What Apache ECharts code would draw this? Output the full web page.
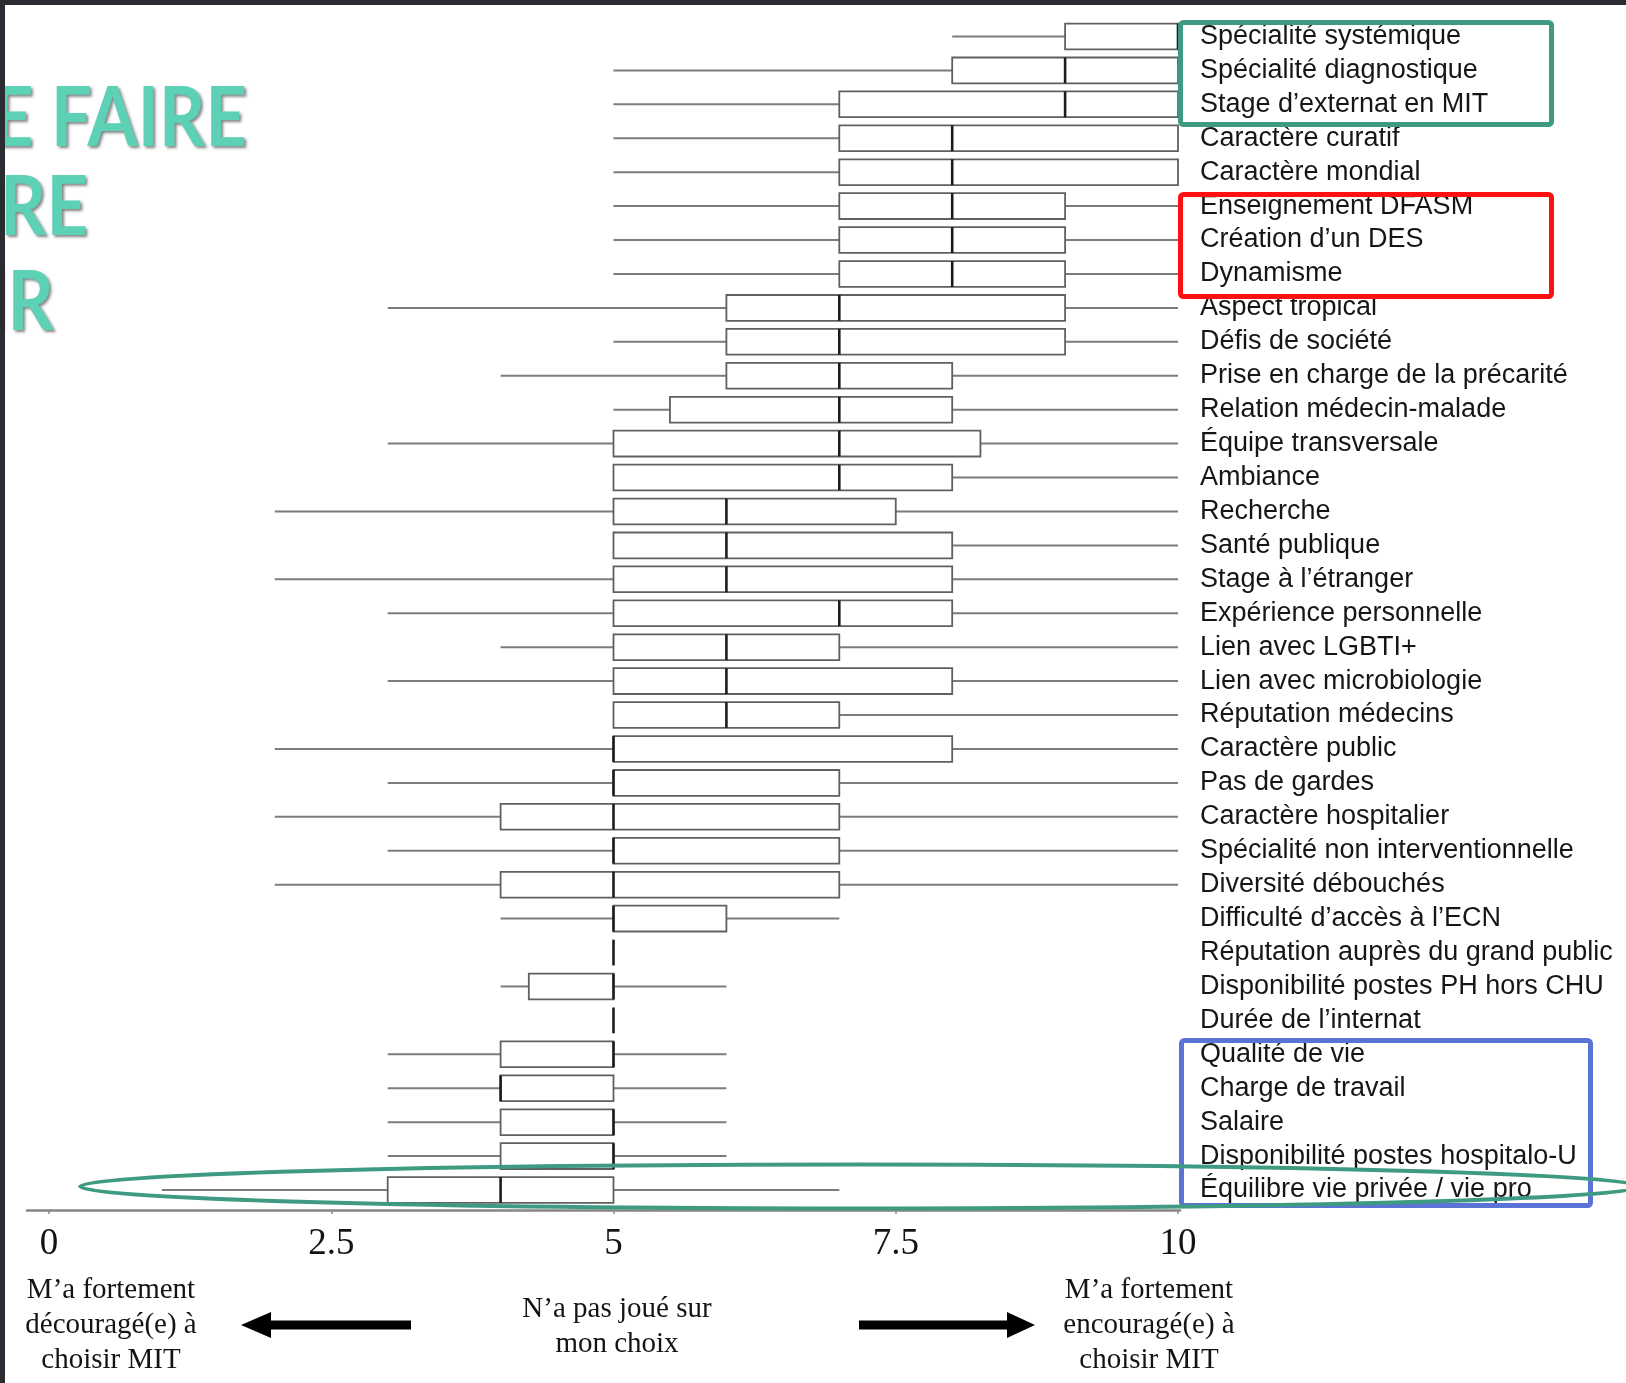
<!DOCTYPE html>
<html>
<head>
<meta charset="utf-8">
<script src="https://cdn.jsdelivr.net/npm/echarts/dist/echarts.min.js"></script>
<style>
html,body{margin:0;padding:0;background:#ffffff;}
#chart{width:1626px;height:1383px;}
</style>
</head>
<body>
<div id="chart"></div>
<script>
// ---- data ----
const categories = [
  "Spécialité systémique",
  "Spécialité diagnostique",
  "Stage d’externat en MIT",
  "Caractère curatif",
  "Caractère mondial",
  "Enseignement DFASM",
  "Création d’un DES",
  "Dynamisme",
  "Aspect tropical",
  "Défis de société",
  "Prise en charge de la précarité",
  "Relation médecin-malade",
  "Équipe transversale",
  "Ambiance",
  "Recherche",
  "Santé publique",
  "Stage à l’étranger",
  "Expérience personnelle",
  "Lien avec LGBTI+",
  "Lien avec microbiologie",
  "Réputation médecins",
  "Caractère public",
  "Pas de gardes",
  "Caractère hospitalier",
  "Spécialité non interventionnelle",
  "Diversité débouchés",
  "Difficulté d’accès à l’ECN",
  "Réputation auprès du grand public",
  "Disponibilité postes PH hors CHU",
  "Durée de l’internat",
  "Qualité de vie",
  "Charge de travail",
  "Salaire",
  "Disponibilité postes hospitalo-U",
  "Équilibre vie privée / vie pro"
];
const mins    = [8, 5, 5, 5, 5, 5, 5, 5, 3, 5, 4, 5,   3,    5, 2,   5, 2, 3, 4, 3, 5, 2, 3, 2, 3, 2, 4, 5, 4,    5, 3, 3, 3, 3, 1];
const q1s     = [9, 8, 7, 7, 7, 7, 7, 7, 6, 6, 6, 5.5, 5,    5, 5,   5, 5, 5, 5, 5, 5, 5, 5, 4, 5, 4, 5, 5, 4.25, 5, 4, 4, 4, 4, 3];
const medians = [10,9, 9, 8, 8, 8, 8, 8, 7, 7, 7, 7,   7,    7, 6,   6, 6, 7, 6, 6, 6, 5, 5, 5, 5, 5, 5, 5, 5,    5, 5, 4, 5, 5, 4];
const q3s     = [10,10,10,10,10,9, 9, 9, 9, 9, 8, 8,   8.25, 8, 7.5, 8, 8, 8, 7, 8, 7, 8, 7, 7, 7, 7, 6, 5, 5,    5, 5, 5, 5, 5, 5];
const maxs    = [10,10,10,10,10,10,10,10,10,10,10,10,  10,   10,10,  10,10,10,10,10,10,10,10,10,10,10, 7, 5, 6,    5, 6, 6, 6, 6, 7];
const xTicks  = [0, 2.5, 5, 7.5, 10];

const headingLines = ["E FAIRE", "TRE", "IR"];
const leftNote  = "M’a fortement\ndécouragé(e) à\nchoisir MIT";
const midNote   = "N’a pas joué sur\nmon choix";
const rightNote = "M’a fortement\nencouragé(e) à\nchoisir MIT";

// ---- build ----
const boxData = categories.map((c, i) => [i, mins[i], q1s[i], medians[i], q3s[i], maxs[i]]);

const W = 1626, H = 1383;
const gridLeft = 49, gridRight = W - 1178, gridTop = 19.5, gridBottom = H - 1207;

function renderBox(params, api) {
  const yi = api.value(0);
  const mn = api.value(1), q1 = api.value(2), md = api.value(3), q3 = api.value(4), mx = api.value(5);
  const pMin = api.coord([mn, yi]);
  const pQ1 = api.coord([q1, yi]);
  const pMd = api.coord([md, yi]);
  const pQ3 = api.coord([q3, yi]);
  const pMax = api.coord([mx, yi]);
  const band = api.size([0, 1])[1];
  const h = band * 0.76;
  const cy = pMin[1];
  const children = [];
  const whisk = { stroke: '#7c7c7c', lineWidth: 2 };
  if (mn < q1) children.push({ type: 'line', shape: { x1: pMin[0], y1: cy, x2: pQ1[0], y2: cy }, style: whisk });
  if (mx > q3) children.push({ type: 'line', shape: { x1: pQ3[0], y1: cy, x2: pMax[0], y2: cy }, style: whisk });
  if (q3 > q1) children.push({ type: 'rect', shape: { x: pQ1[0], y: cy - h / 2, width: pQ3[0] - pQ1[0], height: h },
                              style: { fill: '#ffffff', stroke: '#606060', lineWidth: 1.8 } });
  children.push({ type: 'line', shape: { x1: pMd[0], y1: cy - h / 2, x2: pMd[0], y2: cy + h / 2 },
                  style: { stroke: '#1c1c1c', lineWidth: 2.6 } });
  return { type: 'group', children };
}

const teal = '#3e9b82';
const serif = '"Liberation Serif", "DejaVu Serif", serif';
const headFont = 'bold 82px Lato, "Open Sans", sans-serif';
const headShadow = {
  shadowColor: 'rgba(90,90,90,0.75)', shadowBlur: 3, shadowOffsetX: 2, shadowOffsetY: 2,
  textShadowColor: 'rgba(90,90,90,0.75)', textShadowBlur: 3, textShadowOffsetX: 2, textShadowOffsetY: 2
};
function heading(txt, x, y) {
  return { type: 'text', x: x, y: y, scaleX: 0.88, z: 50,
           style: Object.assign({ text: txt, font: headFont, fill: '#5cd1b6', align: 'right', verticalAlign: 'middle' }, headShadow) };
}

const option = {
  backgroundColor: '#ffffff',
  animation: false,
  grid: [
    { left: gridLeft, right: gridRight, top: gridTop, bottom: gridBottom },
    { left: 27, right: W - 1180, top: gridTop, bottom: gridBottom }
  ],
  xAxis: [
    {
      type: 'value', gridIndex: 0, min: 0, max: 10, interval: 2.5, offset: 3,
      axisLine: { show: false },
      axisTick: { show: true, length: 4, lineStyle: { color: '#8a8a8a', width: 1.5 } },
      splitLine: { show: false },
      axisLabel: {
        fontFamily: serif, fontSize: 37, color: '#141414', margin: 16,
        formatter: v => (xTicks.indexOf(v) >= 0 ? String(v) : '')
      }
    },
    {
      type: 'value', gridIndex: 1, min: 0, max: 10, offset: 3,
      axisLine: { show: true, lineStyle: { color: '#858585', width: 2.5 } },
      axisTick: { show: false }, axisLabel: { show: false }, splitLine: { show: false }
    }
  ],
  yAxis: [
    {
      type: 'category', gridIndex: 0, data: categories, inverse: true, position: 'right',
      axisLine: { show: false }, axisTick: { show: false }, splitLine: { show: false },
      axisLabel: {
        interval: 0,
        fontFamily: '"Liberation Sans", Arial, Helvetica, sans-serif',
        fontSize: 27, color: '#161616', margin: 22, align: 'left'
      }
    },
    {
      type: 'category', gridIndex: 1, data: categories, inverse: true, show: false
    }
  ],
  series: [
    {
      type: 'custom', xAxisIndex: 0, yAxisIndex: 0,
      renderItem: renderBox,
      encode: { x: [1, 2, 3, 4, 5], y: 0 },
      data: boxData,
      clip: false
    }
  ],
  graphic: [
    // dark frame edges
    { type: 'rect', shape: { x: 0, y: 0, width: W, height: 5 }, style: { fill: '#2a2c31' }, z: 100 },
    { type: 'rect', shape: { x: 0, y: 0, width: 5, height: H }, style: { fill: '#2a2c31' }, z: 100 },
    // heading fragments
    heading(headingLines[0], 247, 120),
    heading(headingLines[1], 88, 209),
    heading(headingLines[2], 54, 304),
    // highlight frames
    { type: 'rect', z: 60, shape: { x: 1180.5, y: 22.5, width: 371, height: 102, r: 3 },
      style: { fill: 'none', stroke: teal, lineWidth: 5 } },
    { type: 'rect', z: 60, shape: { x: 1180.5, y: 194.5, width: 371, height: 102, r: 3 },
      style: { fill: 'none', stroke: '#ff1010', lineWidth: 5 } },
    { type: 'rect', z: 60, shape: { x: 1181.5, y: 1040.5, width: 409, height: 165, r: 3 },
      style: { fill: 'none', stroke: '#5b73d5', lineWidth: 5 } },
    { type: 'ellipse', z: 61, shape: { cx: 860, cy: 1186.5, rx: 780, ry: 22 },
      style: { fill: 'none', stroke: teal, lineWidth: 4 } },
    // bottom notes
    { type: 'text', x: 111, y: 1325, z: 50, style: {
        text: leftNote, font: '29px ' + serif, fill: '#141414', align: 'center', verticalAlign: 'middle', lineHeight: 35 } },
    { type: 'text', x: 617, y: 1327, z: 50, style: {
        text: midNote, font: '29px ' + serif, fill: '#141414', align: 'center', verticalAlign: 'middle', lineHeight: 35 } },
    { type: 'text', x: 1149, y: 1325, z: 50, style: {
        text: rightNote, font: '29px ' + serif, fill: '#141414', align: 'center', verticalAlign: 'middle', lineHeight: 35 } },
    // arrows
    { type: 'polygon', z: 50, shape: { points: [[241,1325],[271,1312],[271,1320.5],[411,1320.5],[411,1329.5],[271,1329.5],[271,1338]] },
      style: { fill: '#000000' } },
    { type: 'polygon', z: 50, shape: { points: [[1035,1325],[1007,1312],[1007,1320.5],[859,1320.5],[859,1329.5],[1007,1329.5],[1007,1338]] },
      style: { fill: '#000000' } }
  ]
};

const chart = echarts.init(document.getElementById('chart'), null, { renderer: 'canvas' });
chart.setOption(option);
</script>
</body>
</html>
